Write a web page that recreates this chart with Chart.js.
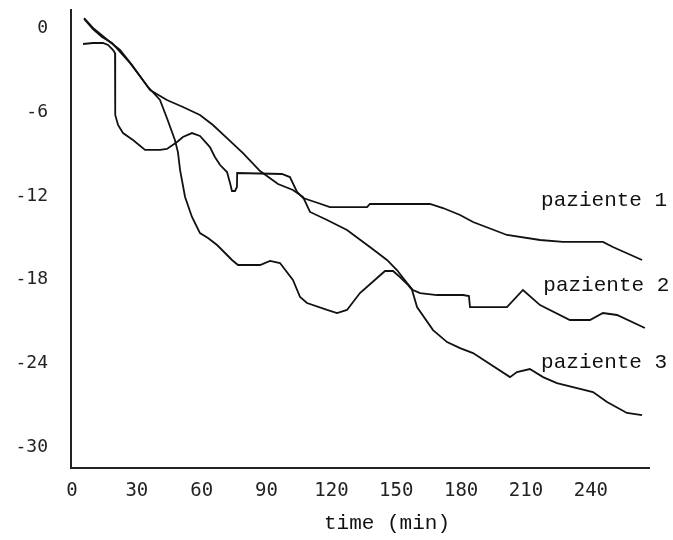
<!DOCTYPE html>
<html>
<head>
<meta charset="utf-8">
<script src="https://cdn.jsdelivr.net/npm/chart.js@4.4.0/dist/chart.umd.min.js"></script>
<style>
  html, body { margin: 0; padding: 0; background: #fff; }
</style>
</head>
<body>
<canvas id="myChart" width="673" height="540"></canvas>
<script>
// values (time in min, change of value)
const seriesNames = ['paziente 1', 'paziente 2', 'paziente 3'];

const p1Time = [5.1, 9.7, 14.3, 16.7, 19.0, 19.9, 20.0, 21.3, 23.6, 28.2, 33.8, 40.7, 43.9, 48.6, 51.3, 55.5, 59.2, 63.8, 66.1, 68.5,
  71.7, 73.1, 74.0, 75.4, 76.3, 76.4, 97.1, 100.8, 104.1, 106.9, 113.8, 119.3, 136.5, 137.8, 165.6, 171.6, 179.5, 185.5, 201.2, 216.5,
  227.1, 245.6, 250.2, 263.7];
const p1Value = [-1.11, -1.04, -1.04, -1.18, -1.54, -1.76, -6.19, -6.91, -7.49, -7.99, -8.70, -8.70, -8.63, -8.13, -7.77, -7.49, -7.70, -8.49, -9.20, -9.78,
  -10.28, -11.07, -11.64, -11.64, -11.35, -10.35, -10.42, -10.64, -11.71, -12.14, -12.50, -12.79, -12.79, -12.57, -12.57, -12.86, -13.36, -13.86, -14.79, -15.15,
  -15.29, -15.29, -15.65, -16.58];

const p2Time = [5.6, 9.7, 17.6, 22.2, 27.8, 30.1, 36.1, 43.9, 51.3, 59.2, 65.2, 72.2, 79.1, 87.0, 95.3, 102.2, 106.9, 110.1, 118.0, 127.2,
  137.8, 145.7, 150.3, 155.0, 157.7, 161.0, 168.8, 180.9, 183.6, 184.1, 201.2, 208.6, 216.5, 230.3, 239.6, 245.6, 252.1, 265.0];
const p2Value = [0.75, 0.04, -0.97, -1.54, -2.61, -3.12, -4.41, -5.12, -5.62, -6.19, -6.91, -7.92, -8.92, -10.21, -11.14, -11.57, -12.07, -13.14, -13.72, -14.43,
  -15.65, -16.58, -17.30, -18.23, -18.73, -18.95, -19.09, -19.09, -19.16, -19.95, -19.95, -18.73, -19.81, -20.88, -20.88, -20.38, -20.52, -21.45];

const p3Time = [5.6, 9.7, 13.9, 18.5, 26.8, 35.2, 40.7, 43.9, 47.6, 49.0, 50.0, 52.3, 55.5, 59.2, 62.9, 67.1, 70.8, 74.0, 76.8, 87.0,
  91.6, 96.2, 102.2, 105.5, 108.7, 118.0, 122.6, 127.2, 133.2, 141.1, 144.8, 148.5, 151.7, 155.4, 157.3, 159.6, 167.0, 173.5, 179.5, 185.5,
  202.6, 205.8, 211.8, 217.9, 224.3, 241.0, 247.5, 256.7, 263.7];
const p3Value = [0.68, -0.04, -0.61, -1.04, -2.47, -4.19, -5.12, -6.41, -7.99, -8.85, -10.14, -12.07, -13.50, -14.65, -15.01, -15.51, -16.08, -16.58, -16.94, -16.94,
  -16.65, -16.80, -18.01, -19.23, -19.66, -20.16, -20.38, -20.16, -18.95, -17.87, -17.37, -17.37, -17.80, -18.37, -18.73, -19.95, -21.60, -22.46, -22.89, -23.25,
  -24.97, -24.61, -24.39, -24.97, -25.40, -26.04, -26.76, -27.54, -27.69];

const xTicks = [0, 30, 60, 90, 120, 150, 180, 210, 240];
const yTicks = [0, -6, -12, -18, -24, -30];
const xTitle = 'time (min)';

function toPoints(times, values) {
  return times.map((t, i) => ({ x: t, y: values[i] }));
}

// names written next to the end of each line, and the axis title
const lineLabels = {
  id: 'lineLabels',
  afterDraw(chart, args, opts) {
    const { ctx, chartArea, scales: { x, y } } = chart;
    ctx.save();
    ctx.font = opts.font;
    ctx.fillStyle = '#111';
    ctx.textBaseline = 'middle';
    ctx.textAlign = 'left';
    opts.at.forEach((p, i) => {
      ctx.fillText(chart.data.datasets[i].label, x.getPixelForValue(p[0]), y.getPixelForValue(p[1]));
    });
    ctx.textAlign = 'center';
    ctx.fillText(opts.title, (chartArea.left + chartArea.right) / 2 + 27, chartArea.bottom + 55);
    ctx.restore();
  }
};

const ctx = document.getElementById('myChart').getContext('2d');
const chart = new Chart(ctx, {
  type: 'line',
  data: {
    datasets: [
      { label: seriesNames[0], data: toPoints(p1Time, p1Value) },
      { label: seriesNames[1], data: toPoints(p2Time, p2Value) },
      { label: seriesNames[2], data: toPoints(p3Time, p3Value) }
    ]
  },
  options: {
    responsive: false,
    animation: false,
    layout: { padding: { top: 10, right: 24, left: 0, bottom: 0 } },
    elements: {
      line: { borderColor: '#111', borderWidth: 1.8, tension: 0, fill: false },
      point: { radius: 0, hoverRadius: 0 }
    },
    plugins: {
      legend: { display: false },
      tooltip: { enabled: false },
      lineLabels: {
        font: '21px "Liberation Mono", "DejaVu Sans Mono", monospace',
        at: [[217, -12.3], [218, -18.4], [217, -23.9]],
        title: xTitle
      }
    },
    scales: {
      x: {
        type: 'linear',
        min: -0.46,
        max: 266.9,
        grid: { display: false, drawTicks: false },
        border: { display: true, color: '#222', width: 2 },
        afterBuildTicks: (scale) => { scale.ticks = xTicks.map(v => ({ value: v })); },
        afterFit: (scale) => {
          scale.height = 72;
          scale.paddingLeft = 0;
          scale.paddingRight = 0;
        },
        ticks: {
          padding: 12,
          color: '#222',
          font: { family: '"DejaVu Sans Mono", monospace', size: 19 },
          maxRotation: 0,
          autoSkip: false
        }
      },
      y: {
        min: -31.48,
        max: 1.325,
        grid: { display: false, drawTicks: false },
        border: { display: true, color: '#222', width: 2 },
        afterBuildTicks: (scale) => { scale.ticks = yTicks.map(v => ({ value: v })); },
        afterFit: (scale) => {
          scale.width = 71;
          scale.paddingTop = 0;
          scale.paddingBottom = 0;
        },
        ticks: {
          padding: 23,
          color: '#222',
          font: { family: '"DejaVu Sans Mono", monospace', size: 18 }
        }
      }
    }
  },
  plugins: [lineLabels]
});
</script>
</body>
</html>
